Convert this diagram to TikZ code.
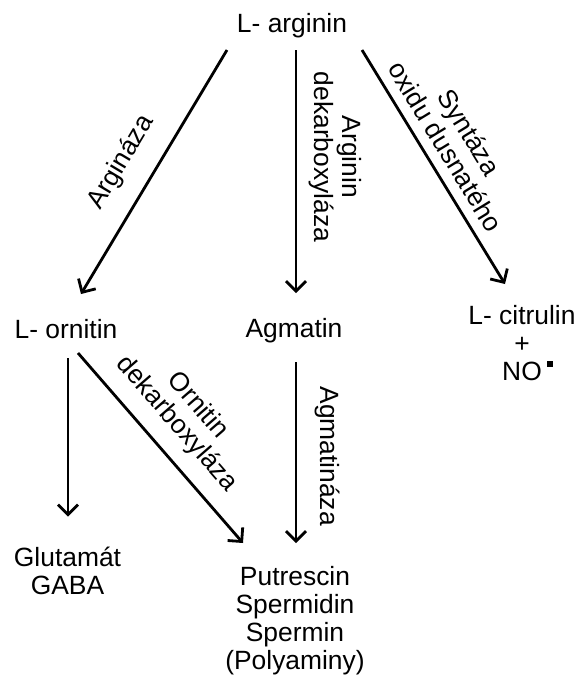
\documentclass[tikz,border=0pt]{standalone}
\usepackage{fontspec}
\setmainfont{Liberation Sans}
\usetikzlibrary{arrows.meta, calc}
\newcommand{\diafont}{\fontsize{26.4}{28}\selectfont}
\tikzset{
  chem/.style={
    inner sep=0pt,
    font=\diafont
  },
  enzyme/.style={
    inner sep=0pt,
    align=center,
    sloped,
    font=\diafont
  },
  arrow/.style={-{Straight Barb[length=10pt,width=20pt]}, line width=2.8pt}
}

\begin{document}
\begin{tikzpicture}
  \useasboundingbox (0pt,0pt) rectangle (576pt,-675pt);

  \node[chem, anchor=base] (arg) at (292pt,-32pt) {L- arginin};
  \node[chem, anchor=base] (orn) at (66pt,-338pt) {L- ornitin};
  \node[chem, anchor=base] (agm) at (294pt,-337pt) {Agmatin};
  \node[chem, anchor=north, align=center] (cit) at (522pt,-305pt)
  {L- citrulin\\
   +\\
   NO\rlap{\hspace{5pt}\raisebox{13pt}{\rule{6pt}{6pt}}}};
  \node[chem, anchor=north, align=center] (glu) at (67.5pt,-546.5pt)
  {Glutamát\\
   GABA};
  \node[chem, anchor=north, align=center] (put) at (295pt,-566pt)
  {Putrescin\\
   Spermidin\\
   Spermin\\
   (Polyaminy)};

  \draw[arrow] ($(arg.base)+(-65pt,-18pt)$) -- node[enzyme, pos=0.53, above=19pt]{Argináza} ($(orn.base)+(15pt,44pt)$);
  \draw[arrow] ($(arg.base)+(4pt,-18pt)$) -- node[enzyme, pos=0.44, above=12pt]{Arginin\\dekarboxyláza} ($(agm.base)+(2pt,44pt)$);
  \draw[arrow] ($(arg.base)+(70pt,-18pt)$) -- node[enzyme, pos=0.46, above=10pt]{Syntáza\\oxidu dusnatého} ($(cit.north)+(-17pt,21pt)$);
  \draw[arrow] ($(orn.base)+(2pt,-20pt)$) -- ($(glu.north)+(0.5pt,30pt)$);
  \draw[arrow] ($(orn.base)+(12pt,-15pt)$) -- node[enzyme, pos=0.47, above=14pt]{Ornitin\\dekarboxyláza} ($(put.north)+(-52pt,23pt)$);
  \draw[arrow] ($(agm.base)+(2pt,-25pt)$) -- node[enzyme, pos=0.52, above=18pt]{Agmatináza} ($(put.north)+(1pt,23pt)$);
\end{tikzpicture}
\end{document}
